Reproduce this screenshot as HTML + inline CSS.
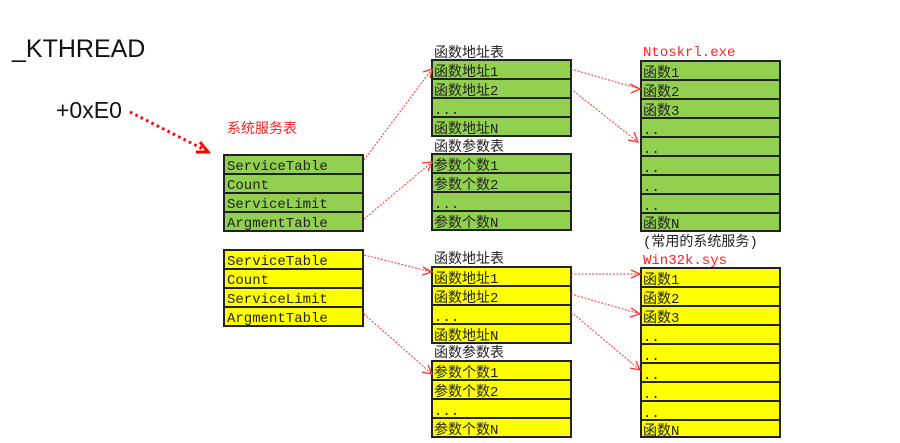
<!DOCTYPE html>
<html><head><meta charset="utf-8"><style>
body{margin:0;background:#fff}
svg text{font-family:"Liberation Mono","Noto Sans CJK SC",monospace;font-size:14px;fill:#222}
.s{font-family:"Liberation Sans",sans-serif!important}
.r{fill:#ff2020!important}
.g{fill:#92d050;stroke:#222;stroke-width:2}
.y{fill:#ffff00;stroke:#222;stroke-width:2}
.a{stroke:#ff3030;stroke-width:1;stroke-dasharray:2 1.5;fill:none}
.h{stroke:#ff3030;stroke-width:1.3;fill:none}
</style></head><body>
<svg width="900" height="438" viewBox="0 0 900 438" xmlns="http://www.w3.org/2000/svg">
<text class="s" x="12" y="57" style="font-size:25px;fill:#111">_KTHREAD</text>
<text class="s" x="56" y="118" style="font-size:23px;fill:#111">+0xE0</text>
<line x1="130" y1="112" x2="205" y2="150" stroke="#ff0000" stroke-width="3" stroke-dasharray="2.5 3.5"/>
<path d="M196 152 L208 152 L200 142" stroke="#ff0000" stroke-width="3" fill="none"/>
<text x="227" y="133" class="r" style="font-family:'Noto Sans CJK SC',sans-serif;font-size:14px">系统服务表</text>

<g>
<rect class="g" x="224" y="155" width="139" height="19"/><rect class="g" x="224" y="174" width="139" height="19"/>
<rect class="g" x="224" y="193" width="139" height="19"/><rect class="g" x="224" y="212" width="139" height="19"/>
<text x="227" y="170">ServiceTable</text><text x="227" y="189">Count</text><text x="227" y="208">ServiceLimit</text><text x="227" y="227">ArgmentTable</text>
</g>
<g>
<rect class="y" x="224" y="250" width="139" height="19"/><rect class="y" x="224" y="269" width="139" height="19"/>
<rect class="y" x="224" y="288" width="139" height="19"/><rect class="y" x="224" y="307" width="139" height="19"/>
<text x="227" y="265">ServiceTable</text><text x="227" y="284">Count</text><text x="227" y="303">ServiceLimit</text><text x="227" y="322">ArgmentTable</text>
</g>

<text x="434" y="57">函数地址表</text>
<rect class="g" x="432" y="60" width="139" height="19"/><rect class="g" x="432" y="79" width="139" height="19"/>
<rect class="g" x="432" y="98" width="139" height="19"/><rect class="g" x="432" y="117" width="139" height="19"/>
<text x="434" y="76">函数地址1</text><text x="434" y="95">函数地址2</text><text x="434" y="114">...</text><text x="434" y="133">函数地址N</text>
<text x="434" y="151">函数参数表</text>
<rect class="g" x="432" y="154" width="139" height="19"/><rect class="g" x="432" y="173" width="139" height="19"/>
<rect class="g" x="432" y="192" width="139" height="19"/><rect class="g" x="432" y="211" width="139" height="19"/>
<text x="434" y="170">参数个数1</text><text x="434" y="189">参数个数2</text><text x="434" y="208">...</text><text x="434" y="227">参数个数N</text>

<text x="434" y="263">函数地址表</text>
<rect class="y" x="432" y="267" width="139" height="19"/><rect class="y" x="432" y="286" width="139" height="19"/>
<rect class="y" x="432" y="305" width="139" height="19"/><rect class="y" x="432" y="324" width="139" height="19"/>
<text x="434" y="283">函数地址1</text><text x="434" y="302">函数地址2</text><text x="434" y="321">...</text><text x="434" y="340">函数地址N</text>
<text x="434" y="357">函数参数表</text>
<rect class="y" x="432" y="361" width="139" height="19"/><rect class="y" x="432" y="380" width="139" height="19"/>
<rect class="y" x="432" y="399" width="139" height="19"/><rect class="y" x="432" y="418" width="139" height="19"/>
<text x="434" y="377">参数个数1</text><text x="434" y="396">参数个数2</text><text x="434" y="415">...</text><text x="434" y="434">参数个数N</text>

<text x="643" y="56" class="r">Ntoskrl.exe</text>
<g>
<rect class="g" x="641" y="61" width="139" height="19"/><rect class="g" x="641" y="80" width="139" height="19"/>
<rect class="g" x="641" y="99" width="139" height="19"/><rect class="g" x="641" y="118" width="139" height="19"/>
<rect class="g" x="641" y="137" width="139" height="19"/><rect class="g" x="641" y="156" width="139" height="19"/>
<rect class="g" x="641" y="175" width="139" height="19"/><rect class="g" x="641" y="194" width="139" height="19"/>
<rect class="g" x="641" y="213" width="139" height="18"/>
<text x="643" y="77">函数1</text><text x="643" y="96">函数2</text><text x="643" y="115">函数3</text>
<text x="643" y="134">..</text><text x="643" y="153">..</text><text x="643" y="172">..</text><text x="643" y="191">..</text><text x="643" y="210">..</text>
<text x="643" y="228">函数N</text>
</g>
<text x="643" y="246">(常用的系统服务)</text>
<text x="643" y="264" class="r">Win32k.sys</text>
<g>
<rect class="y" x="641" y="268" width="139" height="19"/><rect class="y" x="641" y="287" width="139" height="19"/>
<rect class="y" x="641" y="306" width="139" height="19"/><rect class="y" x="641" y="325" width="139" height="19"/>
<rect class="y" x="641" y="344" width="139" height="19"/><rect class="y" x="641" y="363" width="139" height="19"/>
<rect class="y" x="641" y="382" width="139" height="19"/><rect class="y" x="641" y="401" width="139" height="19"/>
<rect class="y" x="641" y="420" width="139" height="17"/>
<text x="643" y="284">函数1</text><text x="643" y="303">函数2</text><text x="643" y="322">函数3</text>
<text x="643" y="341">..</text><text x="643" y="360">..</text><text x="643" y="379">..</text><text x="643" y="398">..</text><text x="643" y="417">..</text>
<text x="643" y="435">函数N</text>
</g>

<g>
<line class="a" x1="364" y1="160" x2="432" y2="69"/><path class="h" d="M423 72 L432 69 L430 78"/>
<line class="a" x1="364" y1="219" x2="432" y2="162"/><path class="h" d="M422 163 L432 162 L428 171"/>
<line class="a" x1="571" y1="69" x2="640" y2="89"/><path class="h" d="M630 84 L640 89 L631 93"/>
<line class="a" x1="571" y1="89" x2="638" y2="142"/><path class="h" d="M634 132 L638 142 L628 140"/>
<line class="a" x1="364" y1="255" x2="432" y2="272"/><path class="h" d="M423 267 L432 272 L422 275"/>
<line class="a" x1="364" y1="314" x2="432" y2="374"/><path class="h" d="M428 365 L432 374 L422 372"/>
<line class="a" x1="571" y1="274" x2="640" y2="274"/><path class="h" d="M631 270 L640 274 L631 278"/>
<line class="a" x1="571" y1="294" x2="640" y2="314"/><path class="h" d="M631 308 L640 314 L630 317"/>
<line class="a" x1="571" y1="312" x2="640" y2="370"/><path class="h" d="M636 361 L640 370 L630 368"/>
</g>
</svg>
</body></html>
